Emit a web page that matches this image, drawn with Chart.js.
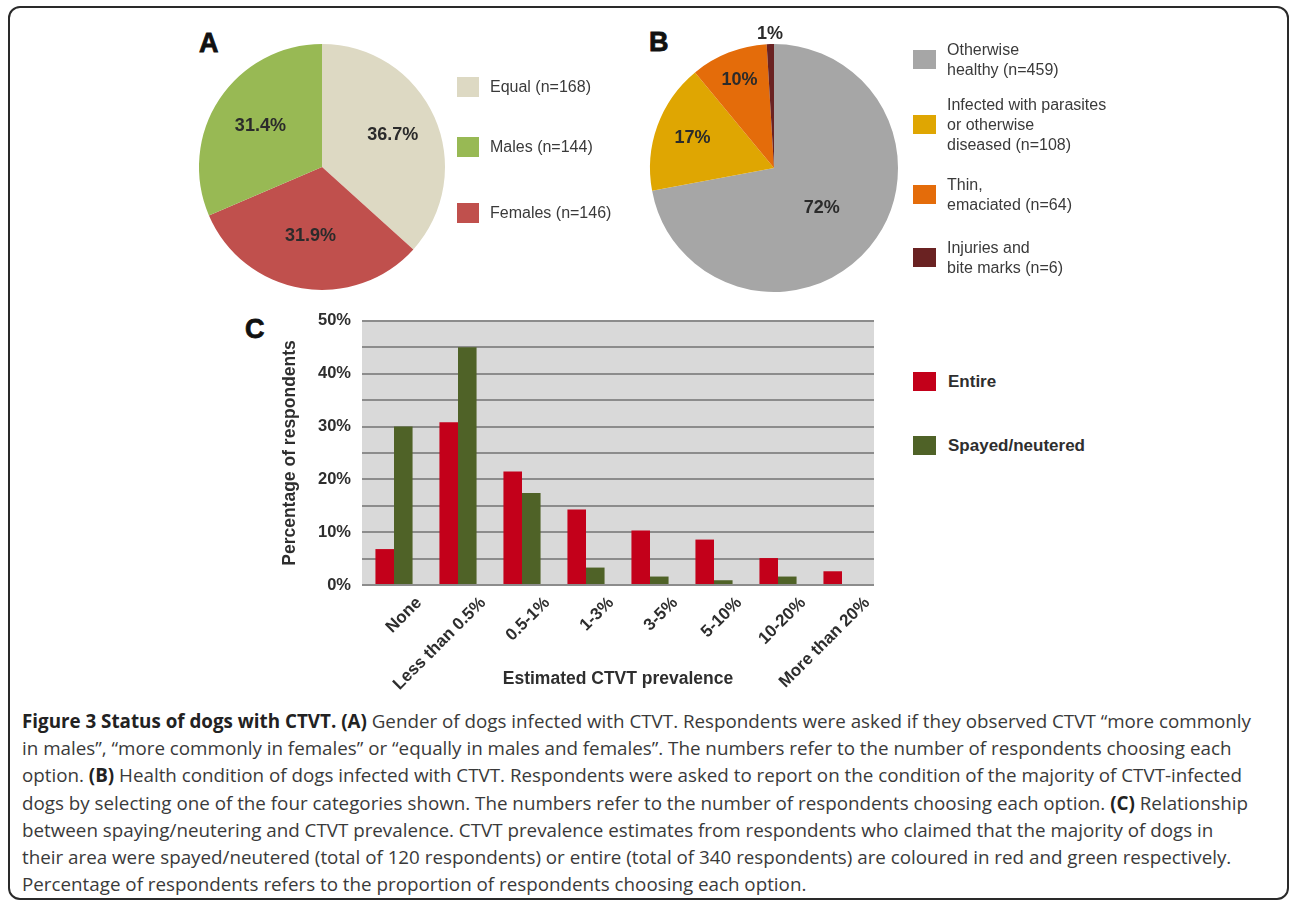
<!DOCTYPE html>
<html>
<head>
<meta charset="utf-8">
<script src="https://cdn.jsdelivr.net/npm/chart.js@4.4.1/dist/chart.umd.min.js"></script>
<style>
    body {
        margin: 0;
        width: 1290px;
        height: 901px;
        background: #fff;
        position: relative;
        overflow: hidden;
        font-family: "Liberation Sans", Arial, sans-serif;
        color: #333;
    }
    .frame {
        position: absolute;
        left: 8px; top: 6px;
        width: 1281px; height: 894px;
        border: 2px solid #2a2a2a;
        border-radius: 12px;
        box-sizing: border-box;
    }
    canvas { position: absolute; }
    .panel {
        position: absolute;
        font-size: 27px;
        font-weight: bold;
        line-height: 1;
        color: #111;
        -webkit-text-stroke: 0.8px #111;
    }
    .legend { position: absolute; font-size: 16px; line-height: 20px; color: #3a3a3a; }
    .legend .item { position: absolute; white-space: nowrap; }
    .legend .box { position: absolute; }
    .barlegend { position: absolute; font-size: 17px; font-weight: bold; color: #2e2e2e; white-space: nowrap; line-height: 20px; }
    .caption {
        position: absolute;
        left: 22px; top: 708px;
        font-family: "Open Sans", sans-serif;
        font-size: 18.8px;
        line-height: 27.2px;
        color: #3a3a3a;
    }
    .caption div { white-space: nowrap; }
    .caption b { color: #222; }
</style>
</head>
<body>
<div class="frame"></div>

<div class="panel" style="left:199px; top:30px;">A</div>
<div class="panel" style="left:649px; top:29px;">B</div>
<div class="panel" style="left:245px; top:316px;">C</div>

<canvas id="pieA" width="286" height="286" style="left:179px; top:24px;"></canvas>
<canvas id="pieB" width="288" height="288" style="left:630px; top:24px;"></canvas>
<canvas id="bars" width="640" height="400" style="left:260px; top:300px;"></canvas>

<div id="legendA" class="legend"></div>
<div id="legendB" class="legend"></div>
<div id="legendC"></div>

<div class="caption">
    <div><b>Figure 3 Status of dogs with CTVT. (A)</b> Gender of dogs infected with CTVT. Respondents were asked if they observed CTVT “more commonly</div>
    <div>in males”, “more commonly in females” or “equally in males and females”. The numbers refer to the number of respondents choosing each</div>
    <div>option. <b>(B)</b> Health condition of dogs infected with CTVT. Respondents were asked to report on the condition of the majority of CTVT-infected</div>
    <div>dogs by selecting one of the four categories shown. The numbers refer to the number of respondents choosing each option. <b>(C)</b> Relationship</div>
    <div>between spaying/neutering and CTVT prevalence. CTVT prevalence estimates from respondents who claimed that the majority of dogs in</div>
    <div>their area were spayed/neutered (total of 120 respondents) or entire (total of 340 respondents) are coloured in red and green respectively.</div>
    <div>Percentage of respondents refers to the proportion of respondents choosing each option.</div>
</div>

<script>
/* ---------- dati ---------- */

// A - gender (slice order = clockwise from 12 o'clock)
const genderCategories = ["Equal", "Females", "Males"];
const genderCounts = [168, 146, 144];
const genderColors = ["#DDD9C3", "#C0504D", "#98B954"];

// B - health condition
const healthCategories = ["Otherwise\nhealthy", "Infected with parasites\nor otherwise\ndiseased", "Thin,\nemaciated", "Injuries and\nbite marks"];
const healthCounts = [459, 108, 64, 6];
const healthColors = ["#A6A6A6", "#DFA602", "#E46C0A", "#6A2222"];

// C - prevalence
const prevalenceCategories = ["None", "Less than 0.5%", "0.5-1%", "1-3%", "3-5%", "5-10%", "10-20%", "More than 20%"];
const entireValues = [6.8, 30.8, 21.5, 14.3, 10.3, 8.6, 5.1, 2.6];
const spayedValues = [30.0, 45.0, 17.4, 3.3, 1.6, 0.9, 1.6, 0];
const yTickValues = [0, 10, 20, 30, 40, 50];

/* ---------- plugin etichette torta ---------- */

const pieLabels = {
    id: "pieLabels",
    afterDatasetsDraw(chart, args, opts) {
        const ctx = chart.ctx;
        const meta = chart.getDatasetMeta(0);
        const data = chart.data.datasets[0].data;
        const total = data.reduce((a, b) => a + b, 0);
        ctx.save();
        ctx.font = "bold 18px 'Liberation Sans', Arial, sans-serif";
        ctx.fillStyle = "#2b2b2b";
        ctx.textAlign = "center";
        ctx.textBaseline = "middle";
        meta.data.forEach((arc, i) => {
            const p = arc.getProps(["x", "y", "startAngle", "endAngle", "outerRadius"], true);
            const mid = (p.startAngle + p.endAngle) / 2;
            const r = p.outerRadius * opts.dist[i];
            const txt = (data[i] * 100 / total).toFixed(opts.decimals) + "%";
            ctx.fillText(txt, p.x + Math.cos(mid) * r, p.y + Math.sin(mid) * r);
        });
        ctx.restore();
    }
};

function pieOptions(dist, decimals) {
    return {
        responsive: false,
        animation: false,
        layout: { padding: 20 },
        plugins: {
            legend: { display: false },
            tooltip: { enabled: false },
            pieLabels: { dist: dist, decimals: decimals }
        }
    };
}

new Chart(document.getElementById("pieA"), {
    type: "pie",
    data: {
        labels: genderCategories,
        datasets: [{ data: genderCounts, backgroundColor: genderColors, borderWidth: 0 }]
    },
    options: pieOptions([0.63, 0.57, 0.6], 1),
    plugins: [pieLabels]
});

new Chart(document.getElementById("pieB"), {
    type: "pie",
    data: {
        labels: healthCategories,
        datasets: [{ data: healthCounts, backgroundColor: healthColors, borderWidth: 0 }]
    },
    options: pieOptions([0.5, 0.7, 0.76, 1.08], 0),
    plugins: [pieLabels]
});

/* ---------- legende torte ---------- */

function renderLegend(id, names, counts, colors, order, cfg) {
    const el = document.getElementById(id);
    let html = "";
    order.forEach((i, k) => {
        const lines = (names[i] + " (n=" + counts[i] + ")").split("\n");
        const boxTop = cfg.boxTops[k];
        const textTop = boxTop + cfg.boxH / 2 - lines.length * 10;
        html += `<div class="box" style="left:${cfg.boxX}px; top:${boxTop}px; width:${cfg.boxW}px; height:${cfg.boxH}px; background:${colors[i]};"></div>`;
        html += `<div class="item" style="left:${cfg.textX}px; top:${textTop}px;">${lines.join("<br>")}</div>`;
    });
    el.innerHTML = html;
}

renderLegend("legendA", genderCategories, genderCounts, genderColors, [0, 2, 1],
    { boxX: 457, boxW: 22, boxH: 20, textX: 490, boxTops: [77, 137, 203] });

renderLegend("legendB", healthCategories, healthCounts, healthColors, [0, 1, 2, 3],
    { boxX: 913, boxW: 23, boxH: 19, textX: 947, boxTops: [50, 115, 185, 248] });

/* ---------- grafico a barre ---------- */

const plotBackground = {
    id: "plotBackground",
    beforeDraw(chart) {
        const { ctx, chartArea: a } = chart;
        ctx.save();
        ctx.fillStyle = "#D9D9D9";
        ctx.fillRect(a.left, a.top, a.right - a.left, a.bottom - a.top);
        ctx.restore();
    }
};

const tickFont = { family: "'Liberation Sans', Arial, sans-serif", size: 16.5, weight: "bold" };
const xTickFont = { family: "'Liberation Sans', Arial, sans-serif", size: 17, weight: "bold" };
const titleFont = { family: "'Liberation Sans', Arial, sans-serif", size: 17.5, weight: "bold" };

new Chart(document.getElementById("bars"), {
    type: "bar",
    data: {
        labels: prevalenceCategories,
        datasets: [
            { label: "Entire", data: entireValues, backgroundColor: "#C3001A" },
            { label: "Spayed/neutered", data: spayedValues, backgroundColor: "#4F6227" }
        ]
    },
    options: {
        responsive: false,
        animation: false,
        layout: { padding: { left: 0, right: 26, top: 14, bottom: 0 } },
        datasets: { bar: { categoryPercentage: 0.58, barPercentage: 1.0, borderWidth: 0 } },
        scales: {
            x: {
                grid: { display: false },
                border: { display: false },
                ticks: {
                    font: xTickFont, color: "#2e2e2e",
                    minRotation: 45, maxRotation: 45,
                    autoSkip: false, padding: 0, labelOffset: 25
                },
                title: {
                    display: true, text: "Estimated CTVT prevalence",
                    font: titleFont, color: "#2e2e2e",
                    padding: { top: 0, bottom: 10 }
                },
                afterFit: s => { s.height = 115; }
            },
            y: {
                min: 0, max: 50,
                grid: { color: "#8C8C8C", lineWidth: 2, drawTicks: false },
                border: { display: false },
                ticks: {
                    stepSize: 5, padding: 11,
                    font: tickFont, color: "#2e2e2e",
                    callback: v => yTickValues.includes(v) ? v + "%" : ""
                },
                title: {
                    display: true, text: "Percentage of respondents",
                    font: titleFont, color: "#2e2e2e",
                    padding: { top: 20, bottom: 0 }
                },
                afterFit: s => { s.width = 102; }
            }
        },
        plugins: {
            legend: { display: false },
            tooltip: { enabled: false }
        }
    },
    plugins: [plotBackground]
});

/* ---------- legenda barre ---------- */

const legendC = document.getElementById("legendC");
[["Entire", "#C3001A", 372], ["Spayed/neutered", "#4F6227", 436]].forEach(([txt, col, top]) => {
    legendC.innerHTML +=
        `<div style="position:absolute; left:913px; top:${top}px; width:23px; height:19px; background:${col};"></div>` +
        `<div class="barlegend" style="left:948px; top:${top}px;">${txt}</div>`;
});
</script>
</body>
</html>
